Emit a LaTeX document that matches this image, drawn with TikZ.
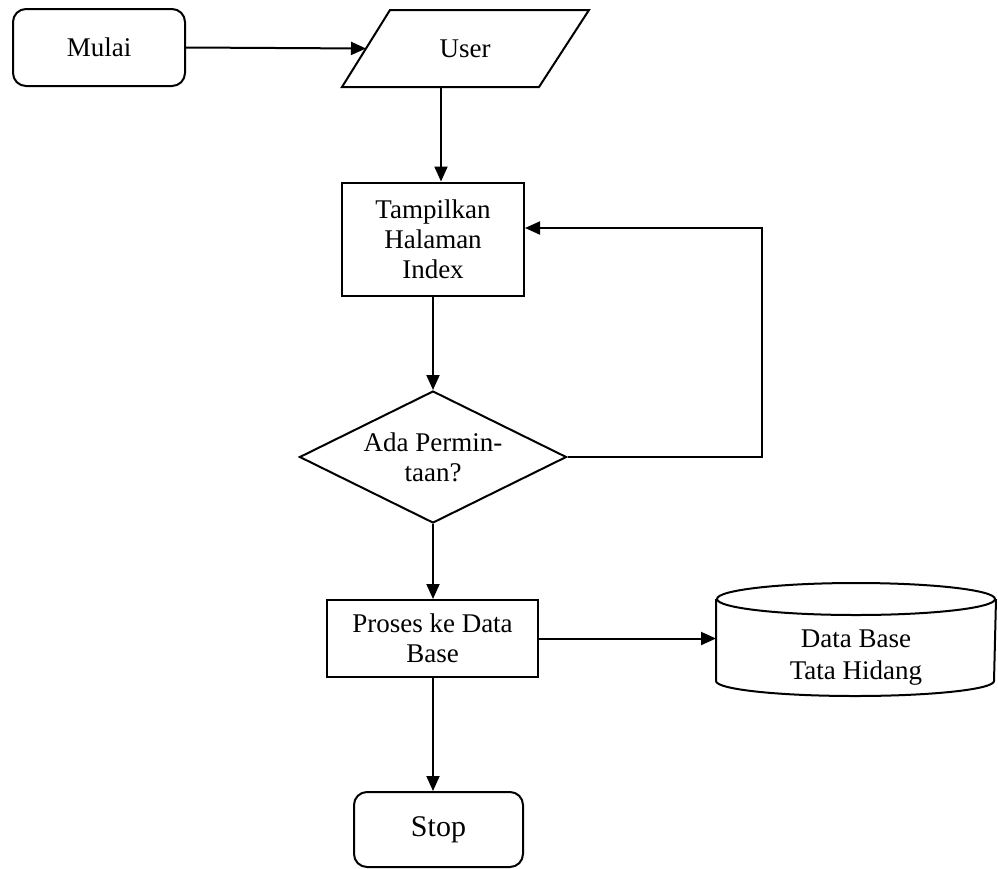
\documentclass[tikz,border=0pt]{standalone}
\usepackage{fontspec}
\setmainfont{Liberation Serif}
\usetikzlibrary{arrows.meta,shapes.geometric}
\begin{document}
\begin{tikzpicture}[x=1pt,y=-1pt,
  line width=2pt,
  base/.style={font=\fontsize{27}{30}\selectfont, align=center, inner sep=0pt},
  rbox/.style={base, draw, rounded corners=13pt},
  pbox/.style={base, draw},
  arr/.style={-{Triangle[length=15pt,width=13pt]}},
]
\useasboundingbox (0,0) rectangle (998,868);
\node[rbox, minimum width=172pt, minimum height=77pt] (mulai) at (99,47.5) {\raisebox{-3pt}{Mulai}};
\node[base, minimum width=196pt, minimum height=75pt] (user) at (465,48.5) {User};
\draw ([xshift=24pt]user.north west) -- ([xshift=25pt]user.north east)
  -- ([xshift=-25pt]user.south east) -- ([xshift=-24pt]user.south west) -- cycle;
\node[pbox, minimum width=182pt, minimum height=113pt] (tamp) at (433,239) {Tampilkan\\Halaman\\Index};
\node[base, draw, diamond, aspect=2, minimum width=267pt, minimum height=132pt] (ada) at (433,457) {Ada Permin-\\taan?};
\node[pbox, minimum width=211pt, minimum height=77pt] (proses) at (432.5,638.5) {Proses ke Data\\Base};
\node[base, minimum width=278pt, minimum height=111pt] (db) at (856,639.5) {};
\node[font=\fontsize{27}{32}\selectfont, align=center, inner sep=0pt] (dbtext) at (856,658) {Data Base\\Tata Hidang};
\draw ([yshift=-16pt]db.north) ellipse [x radius=139pt, y radius=16pt];
\draw ([yshift=-16pt]db.north west) -- ([yshift=15pt]db.south west)
  arc[start angle=180, end angle=360, x radius=139pt, y radius=15pt]
  -- ([yshift=-16pt]db.north east);
\node[rbox, font=\fontsize{30}{34}\selectfont, minimum width=169pt, minimum height=75pt] (stop) at (438.5,829.5) {Stop};
\coordinate (fb) at (762,228);
\coordinate (ua) at (441,0);
\draw[arr] (mulai.east) -- (user.west);
\draw[arr] (user.south -| ua) -- (tamp.north -| ua);
\draw[arr] (tamp.south) -- (ada.north);
\draw[arr] (ada.east) -| (fb) -- (fb -| tamp.east);
\draw[arr] (ada.south) -- (ada.south |- proses.north);
\draw[arr] (proses.east) -- (proses.east -| db.west);
\draw[arr] (ada.south |- proses.south) -- (ada.south |- stop.north);
\end{tikzpicture}
\end{document}
